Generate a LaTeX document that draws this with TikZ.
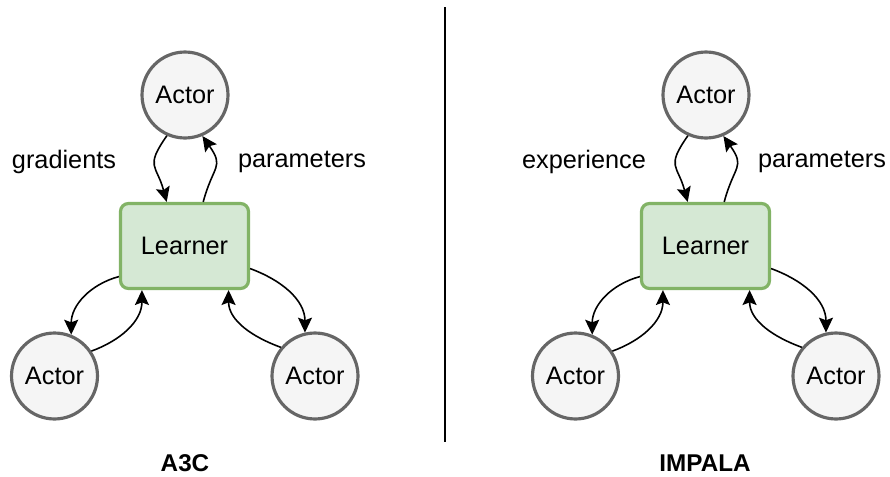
\documentclass[tikz,border=0pt]{standalone}
\usepackage{fontspec}
\setmainfont{Liberation Sans}
\usetikzlibrary{shapes.geometric, arrows.meta}

\definecolor{actorfill}{HTML}{F5F5F5}
\definecolor{actorline}{HTML}{666666}
\definecolor{learnfill}{HTML}{D5E8D4}
\definecolor{learnline}{HTML}{82B366}

\tikzset{
  actor/.style={draw=actorline, fill=actorfill, circle, line width=1.8pt,
    minimum size=1.72cm, inner sep=0pt, font=\fontsize{14.4}{17}\selectfont},
  learner/.style={draw=learnline, fill=learnfill, rectangle, rounded corners=4.5pt,
    line width=1.8pt, minimum width=2.56cm, minimum height=1.7cm,
    font=\fontsize{14.4}{17}\selectfont},
  flow/.style={line width=0.9pt, -{Stealth[length=8.5pt,width=8pt,inset=1.5pt]}},
  lbl/.style={font=\fontsize{14.4}{17}\selectfont},
  title/.style={font=\fontsize{13.8}{16}\selectfont\bfseries}
}

\begin{document}
\begin{tikzpicture}[x=0.02cm,y=-0.02cm]
    \useasboundingbox (0,0) rectangle (890,477);

    % A3C
    \node[actor] (actA) at (185,95) {Actor};
    \node[learner] (learnA) at (184.5,246) {Learner};
    \node[actor] (leftA) at (54.5,376) {Actor};
    \node[actor] (rightA) at (315,376) {Actor};
    \node[lbl] (gradA) at (64,162) {gradients};
    \node[lbl] (parA) at (302,162) {parameters};
    \node[title] (nameA) at (185,463.5) {A3C};
    \draw [flow] (actA.-114) to[out=-125,in=105,looseness=1.5] (learnA.112);
    \draw [flow] (learnA.67) to[out=75,in=-55,looseness=1.5] (actA.-67);
    \draw [flow] (learnA.205) to[out=195,in=90] (leftA.68);
    \draw [flow] (leftA.34) to[out=20,in=-90] (learnA.226);
    \draw [flow] (learnA.-19) to[out=-20,in=90] (rightA.103);
    \draw [flow] (rightA.140) to[out=160,in=-90] (learnA.-45);

    % divider
    \coordinate (divtop) at (445,7);
    \coordinate (divbot) at (445,442);
    \draw [line width=1.1pt] (divtop) -- (divbot);

    % IMPALA
    \node[actor] (actB) at (706,95) {Actor};
    \node[learner] (learnB) at (705.5,246) {Learner};
    \node[actor] (leftB) at (575.5,376) {Actor};
    \node[actor] (rightB) at (836,376) {Actor};
    \node[lbl] (expB) at (584,162) {experience};
    \node[lbl] (parB) at (822,162) {parameters};
    \node[title] (nameB) at (705,463.5) {IMPALA};
    \draw [flow] (actB.-114) to[out=-125,in=105,looseness=1.5] (learnB.112);
    \draw [flow] (learnB.67) to[out=75,in=-55,looseness=1.5] (actB.-67);
    \draw [flow] (learnB.205) to[out=195,in=90] (leftB.68);
    \draw [flow] (leftB.34) to[out=20,in=-90] (learnB.226);
    \draw [flow] (learnB.-19) to[out=-20,in=90] (rightB.103);
    \draw [flow] (rightB.140) to[out=160,in=-90] (learnB.-45);
\end{tikzpicture}
\end{document}
